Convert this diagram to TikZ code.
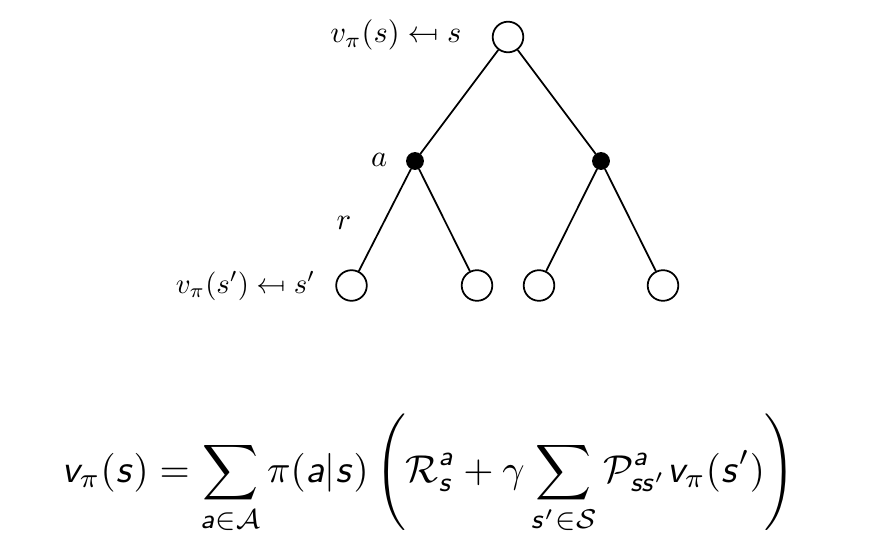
\documentclass[tikz,border=0pt]{standalone}
\usepackage{graphicx}
\usepackage{amsmath}
\DeclareMathAlphabet{\mathsfsl}{OT1}{cmss}{m}{sl}
\newcommand{\myv}{\mathsfsl{v}}
\newcommand{\mys}{\mathsfsl{s}}
\newcommand{\mya}{\mathsfsl{a}}
\newcommand{\lp}{\mathopen{\mathsf{(}}}
\newcommand{\rp}{\mathclose{\mathsf{)}}}
\makeatletter
\newcommand{\bigopen}{\mathopen{\bBigg@{2.75}(}}
\newcommand{\bigclose}{\mathclose{\bBigg@{2.75})}}
\makeatother
\newcommand{\mapsfromarrow}{\mathrel{\reflectbox{$\mapsto$}}}
\tikzset{
  statenode/.style={circle,draw,line width=0.5pt,minimum size=8.75pt,inner sep=0pt},
  actionnode/.style={circle,draw,fill=black,line width=0.5pt,minimum size=4.6pt,inner sep=0pt},
  edge/.style={line width=0.5pt},
  lbl/.style={inner sep=0pt}
}
\begin{document}
\begin{tikzpicture}[x=0.2857pt,y=-0.2857pt]
\useasboundingbox (0,0) rectangle (895,550);
\node[statenode] (s) at (508,37) {};
\node[actionnode] (a1) at (415,161) {};
\node[actionnode] (a2) at (601,161) {};
\node[statenode] (s1) at (351.5,285.5) {};
\node[statenode] (s2) at (477,285.5) {};
\node[statenode] (s3) at (539,285.5) {};
\node[statenode] (s4) at (663,285.5) {};
\draw[edge] (s) -- (a1);
\draw[edge] (s) -- (a2);
\draw[edge] (a1) -- (s1);
\draw[edge] (a1) -- (s2);
\draw[edge] (a2) -- (s3);
\draw[edge] (a2) -- (s4);
\node[lbl,anchor=base east] (ls) at (462,43) {\scalebox{0.87}{$v_\pi(s) \mapsfromarrow s$}};
\node[lbl,anchor=base east] (la) at (388,167) {\scalebox{0.87}{$a$}};
\node[lbl,anchor=base east] (lr) at (352,229) {\scalebox{0.87}{$r$}};
\node[lbl,anchor=base east] (ls1) at (316,293) {\scalebox{0.82}{$v_\pi(s') \mapsfromarrow s'$}};
\node[lbl,anchor=base west] (eq) at (61,482) {\scalebox{1.11}{$\displaystyle \myv_\pi\lp\mys\rp = \sum_{\mya\in\mathcal{A}} \pi\lp\mya|\mys\rp \,\bigopen \mathcal{R}^{\mya}_{\mys} + \gamma \sum_{\mys'\in\mathcal{S}} \mathcal{P}^{\mya}_{\mys\mys'} \myv_\pi\lp\mys'\rp \bigclose$}};
\end{tikzpicture}
\end{document}
